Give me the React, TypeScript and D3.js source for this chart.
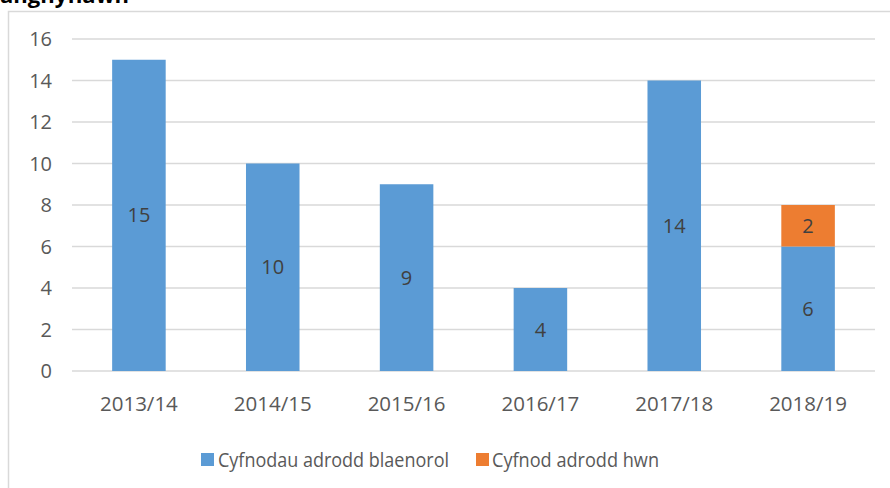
import React from "react";
import * as d3 from "d3";

const categories = ["2013/14", "2014/15", "2015/16", "2016/17", "2017/18", "2018/19"];
const previousPeriods = [15, 10, 9, 4, 14, 6];
const currentPeriod = [0, 0, 0, 0, 0, 2];
const seriesNames = ["Cyfnodau adrodd blaenorol", "Cyfnod adrodd hwn"];
const seriesColors = ["#5B9BD5", "#ED7D31"];
const yTicks = [0, 2, 4, 6, 8, 10, 12, 14, 16];

const W = 890;
const H = 488;
const FONT = "'Open Sans', 'Noto Sans', sans-serif";

export default function App() {
  const x = d3.scaleBand<string>().domain(categories).range([72, 875]).paddingInner(0.6).paddingOuter(0.3);
  const y = d3.scaleLinear().domain([0, 16]).range([371, 39]);

  const rows = categories.map((c, i) => ({ cat: c, prev: previousPeriods[i], cur: currentPeriod[i] }));
  const stack = d3.stack<any>().keys(["prev", "cur"])(rows);

  return (
    <svg width={W} height={H} style={{ position: "absolute", left: 0, top: 0, background: "#fff" }}>
      <rect x={0} y={0} width={W} height={H} fill="#fff" />
      <text x={0} y={3} fontFamily={FONT} fontWeight="bold" fontSize={22} fill="#000">anghyflawn</text>
      <rect x={8.5} y={11.5} width={W + 20} height={H + 20} fill="#fff" stroke="#d9d9d9" strokeWidth={1.5} />
      {yTicks.map((t) => (
        <g key={t}>
          <line x1={72} x2={875} y1={y(t)} y2={y(t)} stroke="#d9d9d9" strokeWidth={1.5} />
          <text x={52} y={y(t)} dy="0.35em" textAnchor="end" fontFamily={FONT} fontSize={20} fill="#595959">{t}</text>
        </g>
      ))}
      {stack.map((s, si) => (
        <g key={si}>
          {s.map((d, i) => {
            const v = d[1] - d[0];
            if (v <= 0) return null;
            const bx = x(categories[i])!;
            const y0 = y(d[0]);
            const y1 = y(d[1]);
            return (
              <g key={i}>
                <rect x={bx} y={y1} width={x.bandwidth()} height={y0 - y1} fill={seriesColors[si]} />
                <text x={bx + x.bandwidth() / 2} y={(y0 + y1) / 2} dy="0.35em" textAnchor="middle" fontFamily={FONT} fontSize={20} fill="#404040">{v}</text>
              </g>
            );
          })}
        </g>
      ))}
      {categories.map((c) => (
        <text key={c} x={x(c)! + x.bandwidth() / 2} y={411} textAnchor="middle" fontFamily={FONT} fontSize={20.5} fill="#595959">{c}</text>
      ))}
      <g>
        <rect x={201} y={453} width={13} height={13} fill={seriesColors[0]} />
        <text x={218} y={467} fontFamily={FONT} fontSize={20} fill="#595959" textLength={231} lengthAdjust="spacingAndGlyphs">{seriesNames[0]}</text>
        <rect x={476} y={453} width={13} height={13} fill={seriesColors[1]} />
        <text x={492} y={467} fontFamily={FONT} fontSize={20} fill="#595959" textLength={167} lengthAdjust="spacingAndGlyphs">{seriesNames[1]}</text>
      </g>
    </svg>
  );
}
